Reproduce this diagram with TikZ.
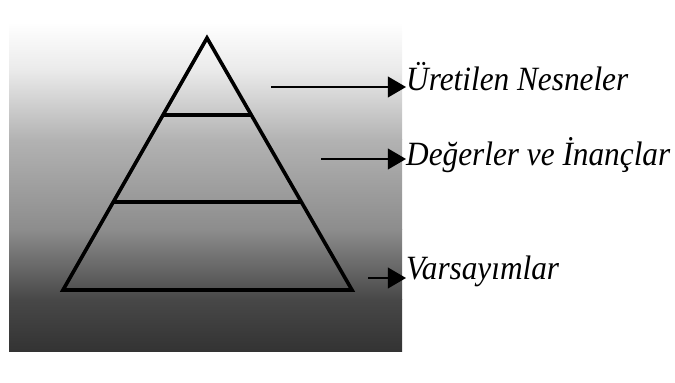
\documentclass[tikz,border=0pt]{standalone}
\usepackage{fontspec}
\setmainfont{Liberation Serif}
\newfontfamily\lblfont[FakeStretch=0.92]{Liberation Serif}
\usetikzlibrary{arrows.meta,calc}
\tikzset{
  lbl/.style={anchor=base west, inner sep=0pt, font=\lblfont\fontsize{34}{40}\selectfont\itshape},
  pyr/.style={line width=3.6pt, line join=miter},
  lay/.style={line width=3.8pt},
  arr/.style={line width=1.8pt, arrows={-Triangle[length=14pt,width=16pt,scale=1.3]}}
}
\begin{document}
\begin{tikzpicture}[x=1pt,y=1pt]
\useasboundingbox (0,0) rectangle (675,383);
% background gradient
\shade[top color=white, bottom color=black!8] (9,313) rectangle (402,361);
\shade[top color=black!8, bottom color=black!30] (9,243) rectangle (402,313.5);
\shade[top color=black!30, bottom color=black!45] (9,153) rectangle (402,243.5);
\shade[top color=black!45, bottom color=black!72] (9,83) rectangle (402,153.5);
\shade[top color=black!72, bottom color=black!80] (9,31) rectangle (402,83.5);
% pyramid
\coordinate (apex) at (207,345);
\coordinate (bl) at (63,93);
\coordinate (br) at (352,93);
\draw[pyr] (apex) -- (bl) -- (br) -- cycle;
\coordinate (l1a) at ($(apex)!0.3056!(bl)$);
\coordinate (l1b) at ($(apex)!0.3056!(br)$);
\coordinate (l2a) at ($(apex)!0.651!(bl)$);
\coordinate (l2b) at ($(apex)!0.651!(br)$);
\draw[lay] (l1a) -- (l1b);
\draw[lay] (l2a) -- (l2b);
% labels
\node[lbl] (t1) at (406,292) {Üretilen Nesneler};
\node[lbl] (t2) at (406,217) {Değerler ve İnançlar};
\node[lbl] (t3) at (406,103) {Varsayımlar};
\coordinate (s1) at (271,296);
\coordinate (s2) at (321,224);
\coordinate (s3) at (368,105);
\draw[arr] (s1) -- (s1 -| t1.west);
\draw[arr] (s2) -- (s2 -| t2.west);
\draw[arr] (s3) -- (s3 -| t3.west);
\end{tikzpicture}
\end{document}
